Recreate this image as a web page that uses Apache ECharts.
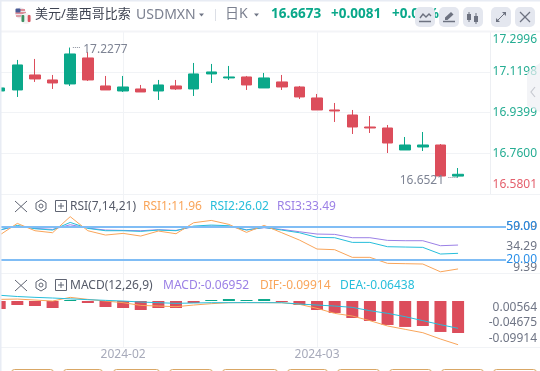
<!DOCTYPE html>
<html><head><meta charset="utf-8">
<style>html,body{margin:0;padding:0;background:#fff;overflow:hidden}#c{width:540px;height:371px}</style>
<script src="https://cdn.jsdelivr.net/npm/echarts@6/dist/echarts.min.js"></script>
</head><body><div id="c"></div>
<script>
const opens  = [17.0357,17.0402,17.1065,17.0844,17.0667,17.1817,17.0579,17.0357,17.0446,17.0357,17.0579,17.0446,17.1110,17.0933,17.0977,17.0490,17.0756,17.0534,17.0048,16.9517,16.9295,16.8764,16.8720,16.7747,16.7879,16.7968,16.6592];
const closes = [17.0490,17.1508,17.0888,17.0711,17.1994,17.0844,17.0402,17.0534,17.0313,17.0623,17.0446,17.1110,17.1198,17.0977,17.0623,17.0933,17.0534,17.0092,16.9517,16.9472,16.8764,16.8720,16.8056,16.7968,16.7968,16.6596,16.6673];
const lows   = [17.0357,17.0092,17.0756,17.0446,17.0579,17.0800,17.0402,17.0313,17.0313,16.9959,17.0402,17.0136,17.0711,17.0844,17.0402,17.0490,17.0402,17.0003,16.9517,16.8986,16.8455,16.8499,16.7614,16.7747,16.7702,16.6596,16.6521];
const highs  = [17.0490,17.1729,17.1773,17.1065,17.2277,17.2083,17.1021,17.1021,17.0623,17.0844,17.0844,17.1596,17.1552,17.1463,17.1021,17.1154,17.1065,17.0579,17.0225,16.9826,16.9517,16.9251,16.8853,16.8322,16.8543,16.8012,16.6950];
const rsi1 = [42.5,53,46.4,44.6,59.09,46.4,42.5,44,41.6,46.1,43.7,53.6,55.7,52.1,44.9,51.2,44.6,38,29.9,29.3,22.4,22.4,17,16.7,16.4,9.39,11.96];
const rsi2 = [47,51.2,48.2,47,53.9,48.5,46.4,46.4,45.8,47,46.4,50.6,51.5,50.9,47,49.4,47,44.6,40.4,40.1,35.9,35.9,32,31.7,31.4,25.4,26.02];
const rsi3 = [47,50.6,48.5,47.6,51.8,48.8,47,46.7,46.4,47.3,46.7,50,50.6,50.3,47.3,49.1,47.6,45.5,43.4,43.1,40.1,40.1,37.7,37.4,37.4,32.9,33.49];
const hist = [-.0174,-.0087,-.0109,-.0152,.0006,-.0043,-.0130,-.0152,-.0195,-.0152,-.0152,-.0043,.0006,.0043,.0006,.0043,-.0022,-.0087,-.0195,-.0260,-.0369,-.0434,-.0521,-.0564,-.0543,-.0673,-.06952];
const dif  = [-.0031,-.0024,-.0045,-.0066,.0012,-.0031,-.0066,-.0101,-.0158,-.0172,-.0186,-.0151,-.0122,-.0101,-.0100,-.0101,-.0102,-.0136,-.0221,-.0327,-.0384,-.0482,-.0595,-.0666,-.0737,-.0871,-.09914];
const dea  = [.0056,.0030,.0012,-.0002,-.0020,-.0037,-.0052,-.0066,-.0087,-.0101,-.0115,-.0108,-.0101,-.0101,-.0100,-.0101,-.0102,-.0129,-.0151,-.0172,-.0200,-.0271,-.0327,-.0398,-.0482,-.0567,-.06438];
const monthTickIdx = [7,18];
const monthLabels = ['2024-02','2024-03'];
const priceTicks = [17.2996,17.1198,16.9399,16.7600,16.5801];
const priceTickAt = [17.2636,17.1198,16.9399,16.7600,16.6198];
const rsiTickLabels = ['59.09','34.29','9.39'];
const rsiTickAt = [50,32,13.5];
const rsiLevels = [50,20];
const macdTickLabels = ['0.00564','-0.04675','-0.09914'];
const macdTickAt = [-0.0199,-0.0525,-0.0856];

const UP='#0aa88a',DOWN='#dc4d5b',ORANGE='#f9a55a',CYAN='#27bedb',PURPLE='#9b80e6',GRID='#f1f3f6',GRAY='#6f7585',BLUE='#2a8fe8';
const FONT='"Noto Sans","Noto Sans CJK SC",sans-serif';
const idx=a=>a.map((v,i)=>[i,v]);
const xMin=0.017,xMaxMain=27.81,xMaxRsi=28.72;

function xAxis(g,max,labels){return{type:'value',gridIndex:g,min:xMin,max:max,
  axisLine:{show:false},axisTick:{show:false,customValues:monthTickIdx},
  splitLine:{show:true,lineStyle:{color:GRID,width:1}},
  axisLabel:labels?{show:true,customValues:monthTickIdx,margin:2,fontSize:12,fontFamily:FONT,color:'#a7aaba',
    formatter:v=>monthLabels[monthTickIdx.indexOf(Number(v))]}:{show:false}};}
function line(name,data,color,x,y,extra){return Object.assign({type:'line',name,data:idx(data),xAxisIndex:x,yAxisIndex:y,
  showSymbol:false,symbol:'none',silent:true,lineStyle:{color,width:1},animation:false},extra||{});}

const shapes=[];
const txt=(x,y,text,fill,size,weight,z)=>shapes.push({type:'text',z:z||50,style:{x,y,text,fill,font:(weight||'normal')+' '+(size||12)+'px '+FONT,textVerticalAlign:'middle',textAlign:'left'}});
const ln=(x1,y1,x2,y2,stroke,w,z)=>shapes.push({type:'line',z:z||50,shape:{x1,y1,x2,y2},style:{stroke,lineWidth:w||1}});
const rect=(x,y,w,h,fill,r,stroke,z)=>shapes.push({type:'rect',z:z||40,shape:{x,y,width:w,height:h,r:r||0},style:{fill:fill||'none',stroke:stroke||'none',lineWidth:1}});
const poly=(points,fill,stroke,open,w)=>shapes.push({type:open?'polyline':'polygon',z:50,shape:{points},style:{fill:open?'none':fill,stroke:stroke||'none',lineWidth:w||1}});

// page frame
rect(0,0,540,1.5,'#e8ecf4');rect(0,0,1.5,371,'#e8ecf4');
ln(0,31.5,540,31.5,'#f3f4f7',2,1);
[194.5,273.5,347.5].forEach(y=>ln(0,y,540,y,'#f1f3f6',1,1));

// flags
shapes.push({type:'circle',z:50,shape:{cx:20.5,cy:13,r:5.5},style:{fill:'#e9e6ec'}});
ln(16,10,25,10,'#d9707c',1.5);ln(15.5,13,26,13,'#d9707c',1.5);ln(16,16,25,16,'#d9707c',1.2);
rect(15.5,8.5,5,4,'#4a5c96',1,null,50);
shapes.push({type:'circle',z:51,shape:{cx:26,cy:18.5,r:5.5},style:{fill:'#f3f3f3'}});
rect(21.5,15,2.8,7,'#3f8f62',1,null,52);rect(27.7,15,2.8,7,'#d9535f',1,null,52);

// header
txt(35,14.5,'美元/墨西哥比索','#3f4452',13);
txt(136,15.5,'USDMXN','#7c8190',14);
poly([[199,13.5],[204,13.5],[201.5,16.5]],'#6f7585');
ln(215.5,9,215.5,21,'#dcdfe6');
txt(225,14.5,'日K','#7c8190',14);
poly([[254,13.5],[259,13.5],[256.5,16.5]],'#6f7585');
txt(271,14.5,'16.6673',UP,13.5,'bold');
txt(331,14.5,'+0.0081',UP,13.5,'bold');
txt(392,14.5,'+0.05%',UP,13.5,'bold',30);

// toolbar
[415,439,463,491,515].forEach(x=>rect(x,7,20,20,'#e4e7ef',5,null,45));
const ic='#6d7280';
poly([[420,18],[423,14],[426,17],[429,14],[431,16]],null,ic,true,1.4);ln(419,21.5,431,21.5,ic,1.5);
poly([[445,20],[445,17.5],[451,12],[453.5,14.5],[447.5,20]],ic);ln(443,21.5,455,21.5,ic,1.5);
ln(469,12,469,22,ic,1);rect(467,14,4,6,ic,0,null,50);ln(476,13,476,24,ic,1);rect(474,16,4,6,ic,0,null,50);
ln(497,21,505,13,ic,1);poly([[502,12],[506,12],[506,16]],ic);poly([[496,18],[496,22],[500,22]],ic);
ln(520,12,530,22,ic,1.2);ln(530,12,520,22,ic,1.2);

// side handle
shapes.push({type:'polygon',z:60,shape:{points:[[527,72],[540,63],[540,112],[527,106]]},style:{fill:'#eef0f4',opacity:.7}});
poly([[535,87],[531,92],[535,97]],null,'#6d7280',true,1.2);

// panel headers
function tools(y){
  ln(15,y-5,27,y+6,'#5f6472',1);ln(27,y-5,15,y+6,'#5f6472',1);
  shapes.push({type:'polygon',z:50,shape:{points:[[41,y-6],[46,y-3],[46,y+3],[41,y+6],[36,y+3],[36,y-3]]},style:{fill:'none',stroke:'#5f6472',lineWidth:1}});
  shapes.push({type:'circle',z:50,shape:{cx:41,cy:y,r:2},style:{fill:'none',stroke:'#5f6472',lineWidth:1}});
  rect(55.5,y-5.5,11,11,null,0,'#5f6472',50);ln(58,y,64,y,'#5f6472');ln(61,y-3,61,y+3,'#5f6472');
}
tools(206);tools(285);
txt(70,206.5,'RSI(7,14,21)','#555a68',12);
txt(143,206.5,'RSI1:11.96',ORANGE,12);
txt(210,206.5,'RSI2:26.02',CYAN,12);
txt(277,206.5,'RSI3:33.49',PURPLE,12);
txt(70,285.5,'MACD(12,26,9)','#555a68',12);
txt(163,285.5,'MACD:-0.06952',PURPLE,12);
txt(260,285.5,'DIF:-0.09914',ORANGE,12);
txt(340,285.5,'DEA:-0.06438',CYAN,12);

// bottom buttons
[[11,53],[63,102],[113,159],[169,212],[222,277],[287,327],[337,379],[389,431],[441,483],[493,536]].forEach(b=>rect(b[0]+.5,369.5,b[1]-b[0],12,'#fff',3,'#d9a765',50));

const leader=(a,b,v)=>[{coord:[a,v]},{coord:[b,v]}];
const chart=echarts.init(document.getElementById('c'),null,{renderer:'canvas'});
chart.setOption({
  animation:false,backgroundColor:'#fff',textStyle:{fontFamily:FONT},
  grid:[
    {left:0,right:50,top:31.3,height:162.7},
    {left:0,right:34,top:194,height:79},
    {left:0,right:50,top:273,height:74}
  ],
  xAxis:[xAxis(0,xMaxMain),xAxis(1,xMaxRsi),xAxis(2,xMaxMain,true)],
  yAxis:[
    {type:'value',gridIndex:0,position:'right',min:16.5801,max:17.2996,
      axisLine:{show:true,lineStyle:{color:'#edeff3'}},axisTick:{show:false,customValues:priceTicks},
      splitLine:{show:true,lineStyle:{color:GRID,width:1}},
      axisLabel:{customValues:priceTickAt,align:'right',margin:47,fontSize:12,fontFamily:FONT,hideOverlap:false,
        color:v=>priceTickAt.indexOf(Number(v))===4?'#e4606d':'#25ad93',
        formatter:v=>priceTicks[priceTickAt.indexOf(Number(v))].toFixed(4)}},
    {type:'value',gridIndex:1,position:'right',min:8.3,max:79.5,
      axisLine:{show:false},axisTick:{show:false},splitLine:{show:false},
      axisLabel:{customValues:rsiTickAt,align:'right',margin:31,fontSize:12,fontFamily:FONT,color:GRAY,
        formatter:v=>rsiTickLabels[rsiTickAt.indexOf(Number(v))]}},
    {type:'value',gridIndex:2,position:'right',min:-0.104,max:0.0528,
      axisLine:{show:false},axisTick:{show:false},splitLine:{show:false},
      axisLabel:{customValues:macdTickAt,align:'right',margin:47,fontSize:12,fontFamily:FONT,color:GRAY,hideOverlap:false,
        formatter:v=>macdTickLabels[macdTickAt.indexOf(Number(v))]}},
    {type:'value',gridIndex:2,show:false,min:-0.1,max:0.0609},
    {type:'value',gridIndex:1,position:'right',min:8.3,max:79.5,z:5,
      axisLine:{show:false},axisTick:{show:false},splitLine:{show:false},
      axisLabel:{customValues:rsiLevels,align:'right',margin:31,fontSize:12,fontFamily:FONT,color:BLUE,
        formatter:v=>Number(v).toFixed(2)}}
  ],
  series:[
    {type:'candlestick',xAxisIndex:0,yAxisIndex:0,barWidth:11,silent:true,
      data:opens.map((o,i)=>[i,o,closes[i],lows[i],highs[i]]),
      encode:{x:0,y:[1,2,3,4]},
      itemStyle:{color:UP,color0:DOWN,borderColor:UP,borderColor0:DOWN,borderWidth:1},
      markPoint:{silent:true,symbol:'circle',symbolSize:0,z:20,data:[
        {coord:[4,highs[4]],value:highs[4].toFixed(4),label:{show:true,position:'right',distance:13,offset:[0,2],color:'#7e8494',fontSize:12,fontFamily:FONT,formatter:'{c}'}},
        {coord:[26,lows[26]],value:lows[26].toFixed(4),label:{show:true,position:'left',distance:14,offset:[0,3],color:'#7e8494',fontSize:12,fontFamily:FONT,formatter:'{c}'}}
      ]},
      markLine:{silent:true,symbol:'none',label:{show:false},lineStyle:{color:'#8a8f9c',type:'dotted',width:1},
        data:[leader(4.15,4.6,highs[4]),leader(25.45,25.95,lows[26])]}
    },
    line('RSI3',rsi3,PURPLE,1,1),
    line('RSI2',rsi2,CYAN,1,1),
    line('RSI1',rsi1,ORANGE,1,1,{markLine:{silent:true,symbol:'none',label:{show:false},
      lineStyle:{color:'#80bdf5',type:'solid',width:2},data:rsiLevels.map(v=>({yAxis:v}))}}),
    {type:'bar',xAxisIndex:2,yAxisIndex:3,barWidth:12,silent:true,data:idx(hist),
      itemStyle:{color:p=>p.value[1]>=0?UP:DOWN},barMinHeight:1},
    line('DIF',dif,ORANGE,2,2),
    line('DEA',dea,CYAN,2,2)
  ],
  graphic:{elements:shapes}
});
</script></body></html>
